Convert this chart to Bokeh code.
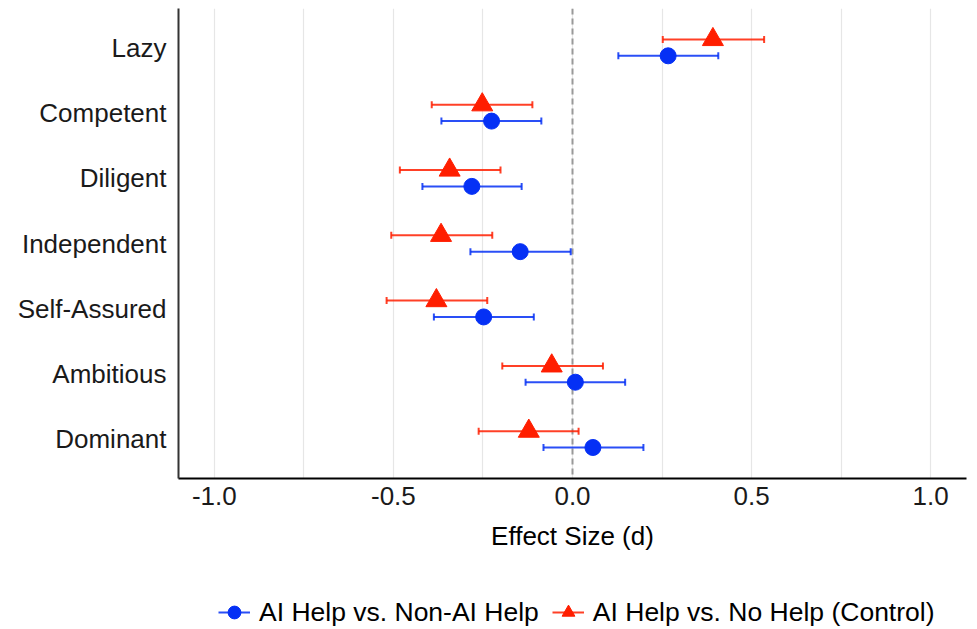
import math
from bokeh.plotting import figure
from bokeh.layouts import column
from bokeh.models import (FactorRange, Range1d, Span, Legend, LegendItem,
                          FixedTicker, ColumnDataSource)
from bokeh.transform import dodge
from bokeh.embed import file_html
from bokeh.resources import INLINE

# ---- data ----
traits = ["Lazy", "Competent", "Diligent", "Independent", "Self-Assured", "Ambitious", "Dominant"]

nonai_d  = [0.267, -0.226, -0.281, -0.146, -0.248, 0.008, 0.057]
nonai_lo = [0.128, -0.366, -0.419, -0.285, -0.387, -0.131, -0.081]
nonai_hi = [0.407, -0.087, -0.142, -0.005, -0.108, 0.147, 0.198]

ctrl_d  = [0.392, -0.252, -0.343, -0.367, -0.380, -0.058, -0.122]
ctrl_lo = [0.252, -0.393, -0.482, -0.506, -0.519, -0.196, -0.262]
ctrl_hi = [0.535, -0.112, -0.201, -0.224, -0.238, 0.085, 0.017]

x_ticks = [-1.0, -0.5, 0.0, 0.5, 1.0]
x_tick_labels = ["-1.0", "-0.5", "0.0", "0.5", "1.0"]
x_minor = [-0.75, -0.25, 0.25, 0.75]

label_nonai = "AI Help vs. Non-AI Help"
label_ctrl = "AI Help vs. No Help (Control)"

BLUE = "#0530F5"
RED = "#FF1E00"
FONT = "Liberation Sans"
FS = "26px"

src_b = ColumnDataSource(dict(trait=traits, d=nonai_d, lo=nonai_lo, hi=nonai_hi))
src_r = ColumnDataSource(dict(trait=traits, d=ctrl_d, lo=ctrl_lo, hi=ctrl_hi))

y_range = FactorRange(factors=list(reversed(traits)), range_padding=0.1,
                      range_padding_units="absolute")

p = figure(width=970, height=584, output_backend="svg", toolbar_location=None,
           x_range=Range1d(-1.1, 1.1), y_range=y_range,
           min_border_left=178, min_border_right=4, min_border_top=8,
           min_border_bottom=106)
p.outline_line_color = None
p.background_fill_color = "white"

# zero reference line
zero = Span(location=0, dimension="height", line_color="#999999", line_width=2,
            line_dash="6 4", level="underlay")
p.add_layout(zero)

off = 0.125
yb = dodge("trait", -off, range=y_range)
yr = dodge("trait", off, range=y_range)

bar_kw = dict(line_width=2, line_alpha=0.85)
cap_kw = dict(marker="dash", angle=math.pi / 2, size=7, line_width=2, line_alpha=0.85)
circ_kw = dict(marker="circle", size=16, fill_color=BLUE, line_color=BLUE)
tri_kw = dict(marker="triangle", size=21, fill_color=RED, line_color=RED)

p.segment(x0="lo", x1="hi", y0=yb, y1=yb, source=src_b, line_color=BLUE, **bar_kw)
p.scatter(x="lo", y=yb, source=src_b, line_color=BLUE, **cap_kw)
p.scatter(x="hi", y=yb, source=src_b, line_color=BLUE, **cap_kw)

p.segment(x0="lo", x1="hi", y0=yr, y1=yr, source=src_r, line_color=RED, **bar_kw)
p.scatter(x="lo", y=yr, source=src_r, line_color=RED, **cap_kw)
p.scatter(x="hi", y=yr, source=src_r, line_color=RED, **cap_kw)

p.scatter(x="d", y=yb, source=src_b, **circ_kw)
p.scatter(x="d", y=yr, source=src_r, **tri_kw)

# axes
p.xaxis.ticker = FixedTicker(ticks=x_ticks, minor_ticks=x_minor)
p.xaxis.major_label_overrides = dict(zip(x_ticks, x_tick_labels))
p.xaxis.axis_label = "Effect Size (d)"
p.xaxis.axis_line_color = "black"
p.xaxis.axis_line_width = 2
p.yaxis.axis_line_color = "#333333"
p.yaxis.axis_line_width = 2
for ax in (p.xaxis, p.yaxis):
    ax.major_tick_line_color = None
    ax.minor_tick_line_color = None
    ax.major_tick_out = 0
    ax.major_tick_in = 0
    ax.major_label_text_font = FONT
    ax.major_label_text_font_size = FS
    ax.major_label_text_color = "#1a1a1a"
    ax.axis_label_text_font = FONT
    ax.axis_label_text_font_size = FS
    ax.axis_label_text_font_style = "normal"
    ax.axis_label_text_color = "black"
p.xaxis.major_label_standoff = 4
p.xaxis.axis_label_standoff = 13
p.yaxis.major_label_standoff = 12

# grid
p.ygrid.grid_line_color = None
p.xgrid.grid_line_color = "#e6e6e6"
p.xgrid.grid_line_width = 1.2
p.xgrid.minor_grid_line_color = "#e6e6e6"
p.xgrid.minor_grid_line_width = 1.2

# ---- legend strip (small figure below the plot; its frame aligns with the plot frame) ----
# The key renderers reuse the series sources; the strip's x range lies outside the data,
# so only their legend keys are visible.
q = figure(width=970, height=45, output_backend="svg", toolbar_location=None,
           x_range=Range1d(5, 6), y_range=FactorRange(factors=list(reversed(traits))),
           x_axis_type=None, y_axis_type=None,
           min_border_left=178, min_border_right=4, min_border_top=0, min_border_bottom=0)
q.outline_line_color = None
q.grid.visible = False
lseg_b = q.segment(x0="lo", x1="hi", y0="trait", y1="trait", source=src_b,
                   line_color=BLUE, **bar_kw)
lpt_b = q.scatter(x="d", y="trait", source=src_b, **circ_kw)
lseg_r = q.segment(x0="lo", x1="hi", y0="trait", y1="trait", source=src_r,
                   line_color=RED, **bar_kw)
lpt_r = q.scatter(x="d", y="trait", source=src_r, **tri_kw)

legend = Legend(items=[LegendItem(label=label_nonai, renderers=[lseg_b, lpt_b]),
                       LegendItem(label=label_ctrl, renderers=[lseg_r, lpt_r])],
                orientation="horizontal", location=(40, 0))
legend.label_text_font = FONT
legend.label_text_font_size = "26.5px"
legend.label_text_color = "black"
legend.border_line_color = None
legend.background_fill_alpha = 0
legend.padding = 0
legend.margin = 0
legend.spacing = 13
legend.label_standoff = 9
legend.glyph_width = 32
legend.glyph_height = 34
q.add_layout(legend, "center")

layout = column(p, q, spacing=0)
open("out.html", "w").write(file_html(layout, INLINE))
